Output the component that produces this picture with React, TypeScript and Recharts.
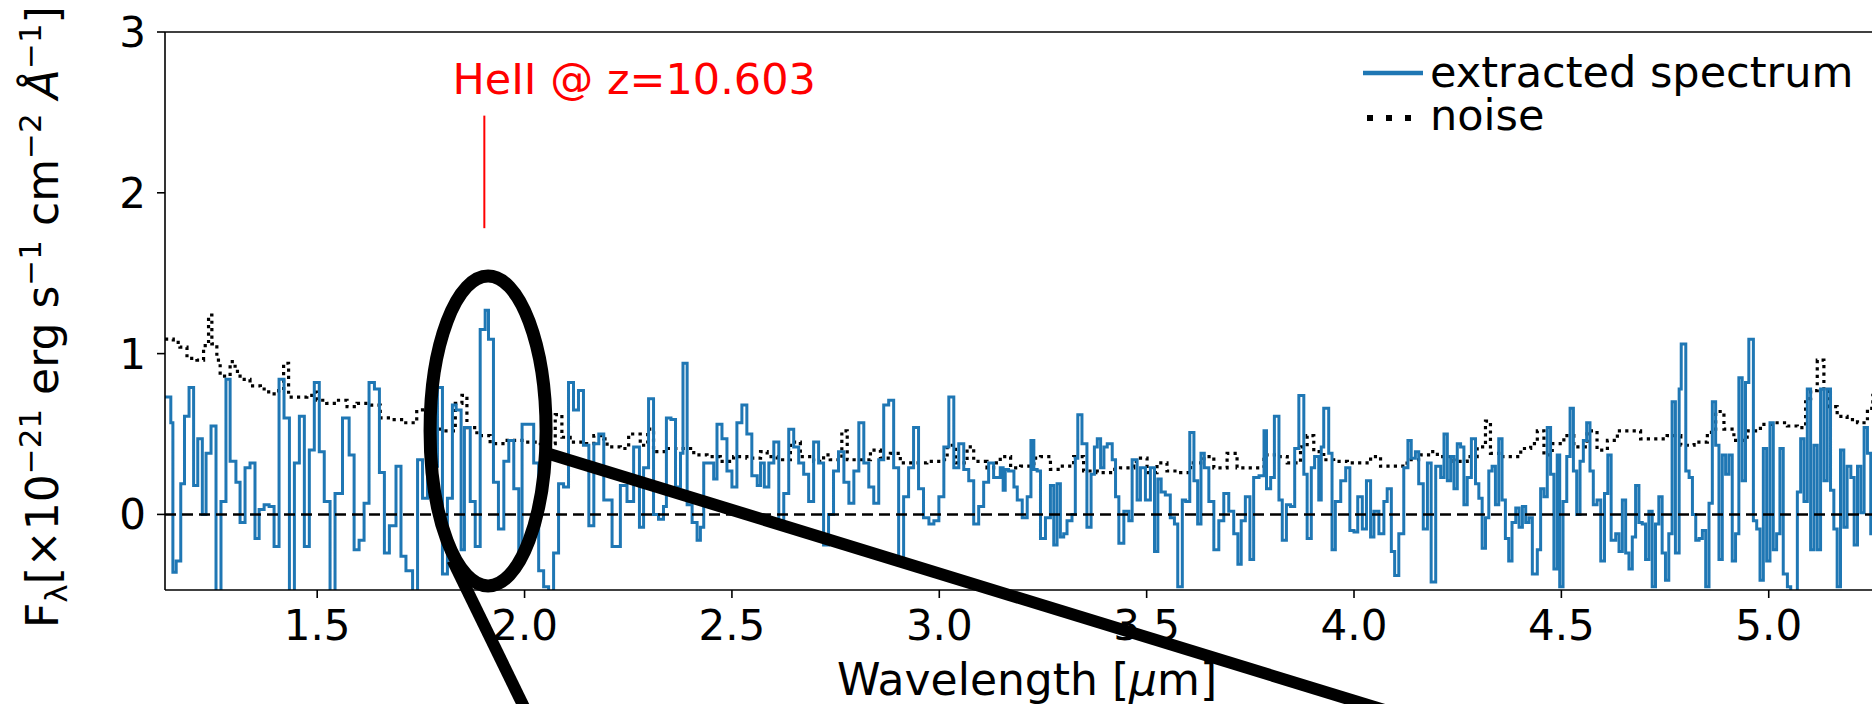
import React from 'react';
import {
  LineChart, Line, XAxis, YAxis, ReferenceLine, ReferenceDot, Legend
} from 'recharts';

// wavelength (start of each bin, micron) and flux
const specWave = [
  1.133, 1.147, 1.152, 1.160, 1.171, 1.180, 1.191, 1.202, 1.212, 1.223, 1.232, 1.244, 1.256, 1.268,
  1.280, 1.290, 1.304, 1.314, 1.326, 1.338, 1.350, 1.360, 1.372, 1.384, 1.396, 1.408, 1.420, 1.433,
  1.445, 1.457, 1.469, 1.481, 1.493, 1.505, 1.517, 1.531, 1.543, 1.561, 1.577, 1.589, 1.601, 1.613,
  1.625, 1.638, 1.650, 1.662, 1.674, 1.690, 1.702, 1.714, 1.730, 1.742, 1.754, 1.766, 1.778, 1.790,
  1.802, 1.814, 1.826, 1.835, 1.847, 1.855, 1.869, 1.881, 1.893, 1.905, 1.913, 1.925, 1.937, 1.950,
  1.962, 1.974, 1.986, 1.994, 2.022, 2.034, 2.046, 2.058, 2.070, 2.082, 2.094, 2.106, 2.118, 2.130,
  2.142, 2.155, 2.167, 2.179, 2.191, 2.211, 2.231, 2.247, 2.263, 2.277, 2.287, 2.299, 2.311, 2.323,
  2.335, 2.342, 2.353, 2.364, 2.376, 2.382, 2.392, 2.404, 2.416, 2.424, 2.432, 2.456, 2.464, 2.476,
  2.488, 2.500, 2.512, 2.524, 2.536, 2.548, 2.561, 2.569, 2.578, 2.589, 2.601, 2.613, 2.625, 2.637,
  2.649, 2.661, 2.673, 2.685, 2.697, 2.709, 2.721, 2.733, 2.745, 2.757, 2.770, 2.782, 2.794, 2.806,
  2.818, 2.830, 2.842, 2.854, 2.866, 2.878, 2.890, 2.902, 2.914, 2.926, 2.938, 2.950, 2.962, 2.975,
  2.987, 2.999, 3.011, 3.023, 3.035, 3.047, 3.059, 3.071, 3.083, 3.095, 3.107, 3.119, 3.131, 3.147,
  3.154, 3.159, 3.167, 3.180, 3.188, 3.200, 3.212, 3.221, 3.228, 3.236, 3.244, 3.256, 3.268, 3.276,
  3.284, 3.292, 3.300, 3.308, 3.320, 3.328, 3.334, 3.344, 3.356, 3.366, 3.374, 3.381, 3.389, 3.397,
  3.405, 3.417, 3.425, 3.433, 3.445, 3.457, 3.465, 3.477, 3.485, 3.497, 3.509, 3.519, 3.527, 3.535,
  3.545, 3.557, 3.567, 3.575, 3.586, 3.594, 3.604, 3.614, 3.623, 3.631, 3.639, 3.650, 3.662, 3.674,
  3.686, 3.698, 3.710, 3.720, 3.728, 3.738, 3.749, 3.758, 3.771, 3.783, 3.789, 3.799, 3.808, 3.819,
  3.827, 3.837, 3.847, 3.857, 3.867, 3.879, 3.887, 3.897, 3.905, 3.915, 3.921, 3.927, 3.939, 3.947,
  3.955, 3.968, 3.980, 3.990, 4.000, 4.009, 4.020, 4.030, 4.040, 4.048, 4.060, 4.072, 4.080, 4.090,
  4.098, 4.108, 4.120, 4.130, 4.138, 4.148, 4.156, 4.167, 4.177, 4.186, 4.197, 4.209, 4.217, 4.225,
  4.233, 4.241, 4.249, 4.257, 4.265, 4.273, 4.283, 4.293, 4.301, 4.309, 4.317, 4.325, 4.333, 4.341,
  4.349, 4.357, 4.365, 4.373, 4.381, 4.390, 4.398, 4.406, 4.414, 4.422, 4.430, 4.442, 4.450, 4.458,
  4.466, 4.474, 4.482, 4.490, 4.496, 4.504, 4.513, 4.521, 4.529, 4.537, 4.545, 4.553, 4.561, 4.569,
  4.577, 4.586, 4.595, 4.604, 4.612, 4.620, 4.631, 4.639, 4.647, 4.655, 4.663, 4.671, 4.679, 4.687,
  4.695, 4.703, 4.711, 4.719, 4.727, 4.735, 4.743, 4.751, 4.759, 4.767, 4.775, 4.784, 4.789, 4.800,
  4.808, 4.816, 4.824, 4.832, 4.840, 4.848, 4.856, 4.864, 4.872, 4.880, 4.888, 4.896, 4.904, 4.912,
  4.920, 4.928, 4.936, 4.944, 4.952, 4.963, 4.971, 4.979, 4.987, 4.995, 5.003, 5.011, 5.019, 5.027,
  5.035, 5.045, 5.053, 5.069, 5.077, 5.085, 5.093, 5.101, 5.109, 5.117, 5.125, 5.133, 5.141, 5.149,
  5.157, 5.165, 5.173, 5.181, 5.189, 5.198, 5.206, 5.214, 5.222, 5.230, 5.238, 5.246, 5.254, 5.262,
  5.270, 5.278, 5.290,
];

const specFlux = [
  0.73, 0.57, -0.36, -0.29, 0.19, 0.61, 0.79, 0.18, 0.47, 0.00, 0.38, 0.55, -0.60, 0.08,
  0.84, 0.33, 0.20, -0.05, 0.29, 0.32, -0.15, 0.03, 0.06, 0.05, -0.20, 0.84, 0.60, -0.60,
  0.32, 0.61, -0.20, 0.40, 0.82, 0.39, 0.08, -0.60, 0.13, 0.60, 0.37, -0.22, -0.16, 0.07,
  0.82, 0.78, 0.26, -0.24, -0.07, 0.30, -0.26, -0.35, -0.60, 0.34, 0.10, 0.45, 0.30, 0.79,
  -0.37, 0.10, 0.68, 0.65, -0.22, 0.54, 0.08, -0.20, 1.15, 1.27, 1.09, 0.20, -0.09, 0.33,
  0.46, 0.16, -0.27, 0.56, 0.32, -0.35, -0.45, -0.60, -0.24, 0.19, 0.17, 0.82, 0.65, 0.77,
  0.43, -0.07, 0.44, 0.50, 0.09, -0.20, 0.18, 0.08, 0.42, -0.08, 0.29, 0.72, 0.00, -0.03,
  0.05, 0.60, 0.59, 0.17, 0.38, 0.94, 0.06, -0.05, -0.16, -0.08, 0.32, 0.22, 0.56, 0.47,
  0.27, 0.17, 0.57, 0.68, 0.50, 0.24, 0.18, 0.32, 0.17, 0.32, 0.45, -0.06, 0.13, 0.53,
  0.42, 0.32, 0.25, 0.08, 0.45, 0.32, -0.19, 0.00, 0.27, 0.39, 0.20, 0.07, 0.27, 0.57,
  0.32, 0.17, 0.07, 0.34, 0.68, 0.71, 0.29, -0.27, 0.11, 0.29, 0.54, 0.16, -0.02, -0.06,
  -0.04, 0.11, 0.42, 0.73, 0.29, 0.44, 0.28, 0.21, -0.06, 0.05, 0.20, 0.32, 0.23, 0.29,
  0.15, 0.28, 0.27, 0.17, 0.09, -0.02, 0.11, 0.46, 0.28, 0.27, -0.15, -0.02, 0.18, -0.19,
  0.19, -0.14, -0.12, -0.04, 0.00, 0.35, 0.62, 0.44, -0.08, 0.25, 0.42, 0.47, 0.29, 0.42,
  0.44, 0.34, 0.11, -0.18, 0.02, -0.04, 0.34, 0.09, 0.29, 0.09, 0.29, -0.23, 0.22, 0.14,
  0.12, -0.02, -0.06, -0.45, 0.09, 0.08, 0.51, 0.21, -0.06, 0.38, 0.29, 0.08, -0.22, -0.04,
  0.13, 0.02, -0.12, -0.31, -0.04, 0.11, -0.28, 0.23, 0.24, 0.52, 0.16, 0.23, 0.61, 0.09,
  -0.16, 0.06, 0.05, 0.41, 0.74, 0.25, -0.15, 0.29, 0.36, 0.09, 0.42, 0.66, 0.38, -0.22,
  0.08, 0.21, 0.29, -0.10, -0.11, 0.11, -0.09, 0.21, -0.14, 0.02, -0.12, 0.08, 0.16, -0.23,
  -0.38, -0.12, 0.29, 0.46, 0.35, 0.39, 0.19, -0.09, 0.32, -0.42, 0.30, 0.23, 0.50, 0.21,
  0.36, 0.16, 0.44, 0.42, 0.06, 0.23, 0.47, 0.19, 0.10, -0.21, -0.02, 0.27, 0.30, 0.06,
  0.47, 0.09, -0.15, -0.29, -0.05, 0.04, -0.08, 0.05, -0.05, -0.02, -0.37, -0.22, 0.16, 0.11,
  0.54, 0.25, -0.34, 0.37, -0.45, 0.08, 0.36, 0.66, 0.27, 0.00, 0.33, 0.46, 0.57, 0.27,
  0.06, 0.09, -0.29, 0.13, 0.37, -0.16, -0.12, -0.23, 0.09, -0.24, -0.34, -0.14, 0.18, -0.05,
  -0.06, -0.28, 0.02, -0.45, -0.06, 0.11, -0.24, -0.41, -0.12, 0.70, -0.24, 0.78, 1.06, 0.27,
  0.23, 0.00, -0.16, -0.15, -0.10, -0.45, 0.07, 0.70, 0.43, -0.28, 0.37, 0.25, 0.37, -0.29,
  -0.12, 0.85, 0.21, 0.82, 1.09, -0.04, -0.09, -0.41, 0.41, -0.29, 0.57, -0.22, -0.12, 0.41,
  -0.37, -0.45, -0.60, 0.14, 0.47, 0.08, 0.78, -0.22, 0.43, -0.22, 0.78, 0.21, 0.78, 0.15,
  -0.09, -0.45, 0.40, -0.08, 0.30, 0.23, -0.19, 0.30, 0.01, 0.54, 0.38, -0.12, 0.30, 0.55,
  0.10, 0.45, 0.20,
];

const noiseWave = [
  1.133, 1.153, 1.169, 1.186, 1.210, 1.226, 1.238, 1.246, 1.258, 1.266, 1.290, 1.302, 1.314, 1.338,
  1.363, 1.383, 1.407, 1.419, 1.431, 1.451, 1.475, 1.491, 1.499, 1.523, 1.547, 1.572, 1.596, 1.628,
  1.652, 1.676, 1.708, 1.740, 1.765, 1.785, 1.805, 1.833, 1.849, 1.861, 1.885, 1.917, 1.958, 1.998,
  2.038, 2.074, 2.090, 2.110, 2.142, 2.167, 2.191, 2.199, 2.231, 2.251, 2.279, 2.297, 2.311, 2.343,
  2.384, 2.408, 2.440, 2.472, 2.504, 2.536, 2.569, 2.585, 2.609, 2.641, 2.665, 2.697, 2.721, 2.737,
  2.765, 2.778, 2.810, 2.834, 2.858, 2.882, 2.906, 2.938, 2.970, 3.003, 3.019, 3.039, 3.067, 3.083,
  3.115, 3.131, 3.147, 3.172, 3.196, 3.228, 3.244, 3.268, 3.292, 3.324, 3.348, 3.381, 3.413, 3.437,
  3.469, 3.485, 3.501, 3.525, 3.549, 3.582, 3.606, 3.638, 3.662, 3.694, 3.718, 3.758, 3.783, 3.815,
  3.839, 3.871, 3.887, 3.903, 3.927, 3.951, 3.984, 4.016, 4.040, 4.064, 4.096, 4.128, 4.160, 4.185,
  4.201, 4.241, 4.273, 4.297, 4.317, 4.329, 4.353, 4.377, 4.402, 4.426, 4.442, 4.458, 4.478, 4.506,
  4.530, 4.562, 4.586, 4.611, 4.635, 4.667, 4.691, 4.723, 4.755, 4.788, 4.820, 4.852, 4.872, 4.892,
  4.916, 4.948, 4.980, 5.013, 5.045, 5.069, 5.089, 5.101, 5.117, 5.133, 5.145, 5.165, 5.189, 5.214,
  5.238, 5.251, 5.270, 5.290,
];

const noiseFlux = [
  1.09, 1.07, 1.04, 0.97, 0.96, 1.05, 1.24, 1.06, 0.96, 0.86, 0.95, 0.89, 0.84, 0.80,
  0.78, 0.75, 0.77, 0.94, 0.73, 0.73, 0.74, 0.76, 0.71, 0.69, 0.71, 0.67, 0.69, 0.68,
  0.60, 0.59, 0.57, 0.65, 0.65, 0.53, 0.52, 0.69, 0.74, 0.54, 0.49, 0.44, 0.46, 0.45,
  0.44, 0.62, 0.48, 0.45, 0.44, 0.49, 0.47, 0.42, 0.41, 0.50, 0.43, 0.53, 0.39, 0.41,
  0.41, 0.37, 0.36, 0.33, 0.36, 0.35, 0.39, 0.36, 0.34, 0.45, 0.36, 0.33, 0.37, 0.34,
  0.52, 0.34, 0.34, 0.40, 0.35, 0.38, 0.32, 0.32, 0.33, 0.34, 0.43, 0.32, 0.42, 0.33,
  0.29, 0.32, 0.36, 0.29, 0.30, 0.35, 0.36, 0.28, 0.30, 0.36, 0.27, 0.26, 0.28, 0.29,
  0.33, 0.35, 0.26, 0.32, 0.27, 0.26, 0.32, 0.36, 0.29, 0.38, 0.29, 0.29, 0.37, 0.36,
  0.32, 0.42, 0.49, 0.39, 0.34, 0.33, 0.32, 0.32, 0.36, 0.30, 0.30, 0.34, 0.37, 0.39,
  0.36, 0.33, 0.36, 0.42, 0.58, 0.38, 0.36, 0.36, 0.41, 0.44, 0.52, 0.37, 0.44, 0.49,
  0.42, 0.52, 0.40, 0.46, 0.52, 0.52, 0.47, 0.47, 0.49, 0.43, 0.45, 0.51, 0.64, 0.53,
  0.46, 0.52, 0.56, 0.57, 0.55, 0.54, 0.72, 0.77, 0.96, 0.78, 0.67, 0.61, 0.59, 0.57,
  0.66, 0.74, 0.62, 0.60,
];

const xTicks = [1.5, 2.0, 2.5, 3.0, 3.5, 4.0, 4.5, 5.0];
const yTicks = [0, 1, 2, 3];

// HeII 1640 line marker and its label
const lineName = 'HeII @ z=10.603';
const lineWave = 1.903;
const lineFrom = 1.78;
const lineTo = 2.48;
const lineTextAt = { x: 1.826, y: 2.614 };

// zoom-in callout: ring around the line and the two leader lines
const ringAt = { x: 1.912, y: 0.519 };
const leaderA = [{ x: 1.826, y: -0.284 }, { x: 2.014, y: -1.279 }];
const leaderB = [{ x: 2.060, y: 0.376 }, { x: 4.112, y: -1.247 }];

const specData = specWave.map((w, i) => ({ wave: w, flux: specFlux[i] }));
const noiseData = noiseWave.map((w, i) => ({ wave: w, flux: noiseFlux[i] }));

const blue = '#1f77b4';
const font = 'DejaVu Sans, sans-serif';

const YLabel = () => (
  <text x={58} y={628} transform="rotate(-90 58 628)" fontSize={44} fill="#000" fontFamily={font}>
    <tspan>F</tspan>
    <tspan dy={9} fontSize={31}>λ</tspan>
    <tspan dy={-9}>[×10</tspan>
    <tspan dy={-17} fontSize={31}>−21</tspan>
    <tspan dy={17}> erg s</tspan>
    <tspan dy={-17} fontSize={31}>−1</tspan>
    <tspan dy={17}> cm</tspan>
    <tspan dy={-17} fontSize={31}>−2</tspan>
    <tspan dy={17}> </tspan>
    <tspan fontStyle="italic">Å</tspan>
    <tspan dy={-17} fontSize={31}>−1</tspan>
    <tspan dy={17}>]</tspan>
  </text>
);

const XLabel = (props: any) => {
  const vb = props.viewBox;
  return (
    <text x={vb.x + vb.width / 2} y={vb.y + 105} textAnchor="middle" fontSize={44} fill="#000" fontFamily={font}>
      Wavelength [<tspan fontStyle="italic">μ</tspan>m]
    </text>
  );
};

// both legend rows set in one text block, as tight as in the figure
const LegendBox = () => (
  <svg width={520} height={110}>
    <line x1={13} y1={33} x2={73} y2={33} stroke={blue} strokeWidth={4.5} />
    <line x1={17} y1={78} x2={63} y2={78} stroke="#000" strokeWidth={6} strokeDasharray="6 13" />
    <text fontSize={43} fontFamily={font} fill="#000">
      <tspan x={80} y={47}>extracted spectrum</tspan>
      <tspan x={80} y={90}>noise</tspan>
    </text>
  </svg>
);

const App = () => {
  const tick = { fontSize: 42, fill: '#000', fontFamily: font };
  return <div style={{
    position: 'fixed', left: 0, top: 0, width: 1872, height: 704,
    overflow: 'hidden', background: '#fff', fontFamily: font,
  }}>
    <LineChart width={1900} height={704} margin={{ top: 32, right: 11, bottom: 0, left: 0 }}>
      <XAxis
        dataKey="wave"
        type="number"
        domain={[1.133, 5.29]}
        ticks={xTicks}
        tickFormatter={(v: number) => v.toFixed(1)}
        allowDataOverflow
        height={114}
        tick={tick}
        tickSize={8}
        tickMargin={12}
        axisLine={{ stroke: '#000', strokeWidth: 1.6 }}
        tickLine={{ stroke: '#000', strokeWidth: 1.6 }}
        label={(p: any) => <XLabel {...p} />}
      />
      <YAxis
        type="number"
        domain={[-0.47, 3]}
        ticks={yTicks}
        allowDataOverflow
        width={165}
        tick={tick}
        tickSize={8}
        tickMargin={11}
        axisLine={{ stroke: '#000', strokeWidth: 1.6 }}
        tickLine={{ stroke: '#000', strokeWidth: 1.6 }}
        label={() => <YLabel />}
      />
      <ReferenceLine y={3} stroke="#000" strokeWidth={1.6} />
      <Line
        data={noiseData}
        dataKey="flux"
        name="noise"
        type="stepAfter"
        stroke="#000"
        strokeWidth={3.2}
        strokeDasharray="3.2 4.2"
        dot={false}
        isAnimationActive={false}
      />
      <Line
        data={specData}
        dataKey="flux"
        name="extracted spectrum"
        type="stepAfter"
        stroke={blue}
        strokeWidth={3}
        dot={false}
        isAnimationActive={false}
      />
      <ReferenceLine y={0} stroke="#000" strokeWidth={2.5} strokeDasharray="11 6" />
      <ReferenceLine
        segment={[{ x: lineWave, y: lineFrom }, { x: lineWave, y: lineTo }]}
        stroke="#ff0000"
        strokeWidth={2}
      />
      <ReferenceDot
        x={lineTextAt.x}
        y={lineTextAt.y}
        r={0}
        ifOverflow="visible"
        shape={(p: any) => <text x={p.cx} y={p.cy} fill="#ff0000" fontSize={43} fontFamily={font}>{lineName}</text>}
      />
      <ReferenceDot
        x={ringAt.x}
        y={ringAt.y}
        r={1}
        ifOverflow="visible"
        shape={(p: any) => <ellipse cx={p.cx} cy={p.cy} rx={58} ry={155} fill="none" stroke="#000" strokeWidth={13} />}
      />
      <ReferenceLine segment={leaderA} ifOverflow="visible" stroke="#000" strokeWidth={12} />
      <ReferenceLine segment={leaderB} ifOverflow="visible" stroke="#000" strokeWidth={12} />
      <Legend
        layout="vertical"
        align="center"
        verticalAlign="middle"
        content={() => <LegendBox />}
        wrapperStyle={{ left: 1350, top: 40, width: 520, height: 110 }}
      />
    </LineChart>
  </div>;
};

export default App;
